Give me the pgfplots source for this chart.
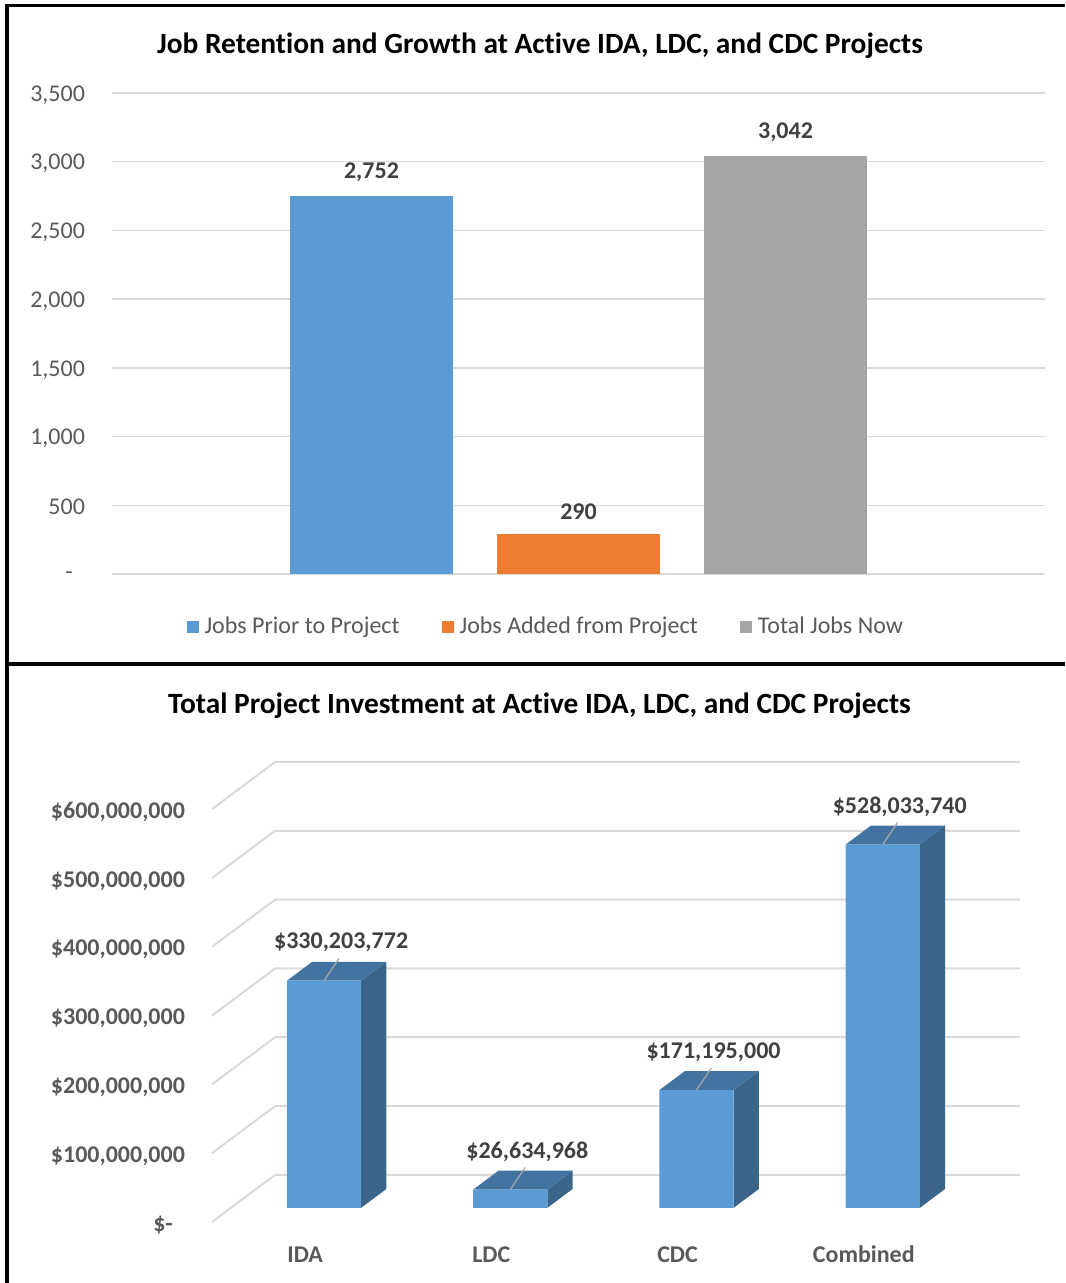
\documentclass[border=0pt]{standalone}
\usepackage{pgfplots}
\pgfplotsset{compat=1.18}
\usepackage{pgfplotstable}
\usepackage{fontspec}
\setmainfont{Carlito}[Ligatures=NoCommon]
\definecolor{cblue}{HTML}{5B9BD5}
\definecolor{corange}{HTML}{ED7D31}
\definecolor{cgray}{HTML}{A5A5A5}
\definecolor{gridc}{HTML}{D9D9D9}
\definecolor{tickc}{HTML}{595959}
\definecolor{labc}{HTML}{404040}
\definecolor{ctop}{HTML}{4374A1}
\definecolor{cside}{HTML}{3A6488}
\definecolor{leadc}{HTML}{A6A6A6}
\newcommand\fs{\fontsize{12pt}{14pt}\selectfont}

\pgfplotstableread{
x v lab
0 330.203772 330,203,772
1 26.634968 26,634,968
2 171.195 171,195,000
3 528.03374 528,033,740
}\invest

\begin{document}
\begin{tikzpicture}
\path[use as bounding box] (0,0) rectangle (532.5pt,641.5pt);
% frame lines
\draw[line width=2pt] (3.5pt,0) -- (3.5pt,639pt);
\draw[line width=1.5pt] (2.5pt,638.5pt) -- (532.5pt,638.5pt);
\draw[line width=2pt] (2.5pt,309.5pt) -- (532.5pt,309.5pt);
% titles
\node[font=\fontsize{14.7pt}{17pt}\selectfont\bfseries] at (270pt,618.5pt) {Job Retention and Growth at Active IDA, LDC, and CDC Projects};
\node[font=\fontsize{14.7pt}{17pt}\selectfont\bfseries] at (269.75pt,288.5pt) {Total Project Investment at Active IDA, LDC, and CDC Projects};

% ---------- top chart ----------
\begin{axis}[
  at={(56pt,354.5pt)}, anchor=south west,
  scale only axis, width=466.5pt, height=240.5pt,
  xmin=-1, xmax=1, ymin=0, ymax=3500,
  clip=false,
  axis line style={draw=none}, tick style={draw=none},
  xtick=\empty,
  ytick={0,500,...,3500},
  yticklabels={{-\hphantom{0}},500,{1,000},{1,500},{2,000},{2,500},{3,000},{3,500}},
  yticklabel style={font=\fs, text=tickc, xshift=-10pt, yshift=-1pt},
  ymajorgrids, grid style={gridc, line width=0.75pt},
  /pgf/number format/assume math mode=true,
  /pgf/number format/1000 sep={,},
  nodes near coords,
  every node near coord/.append style={font=\fs\bfseries, text=labc, yshift=3.5pt},
  legend image code/.code={\fill[#1] (0pt,-3pt) rectangle (6pt,3pt);},
  legend style={at={(0.466,-0.110)}, anchor=center, draw=none, fill=none,
    font=\fs\color{tickc}, legend columns=-1,
    /tikz/every odd column/.append style={column sep=1pt},
    /tikz/every even column/.append style={column sep=19pt}},
]
\addplot[ybar, bar width=0.3494, bar shift=-0.4437, fill=cblue, draw=none,
  every node near coord/.append style={xshift=-103.5pt}] coordinates {(0,2752)};
\addlegendentry{Jobs Prior to Project}
\addplot[ybar, bar width=0.3494, bar shift=0, fill=corange, draw=none] coordinates {(0,290)};
\addlegendentry{Jobs Added from Project}
\addplot[ybar, bar width=0.3494, bar shift=0.4437, fill=cgray, draw=none,
  every node near coord/.append style={xshift=103.5pt}] coordinates {(0,3042)};
\addlegendentry{Total Jobs Now}
\end{axis}

% ---------- bottom chart ----------
\begin{axis}[
  at={(106pt,30.5pt)}, anchor=south west,
  scale only axis, width=404pt, height=230pt,
  xmin=-0.5, xmax=3.839, ymin=-20.55, ymax=647.95,
  clip=false,
  axis line style={draw=none}, tick style={draw=none},
  xtick={0,1,2,3}, xticklabels={IDA,LDC,CDC,Combined},
  xticklabel style={font=\fs\bfseries, text=tickc, anchor=base, yshift=-20pt},
  ytick={-20.55,79.45,179.45,279.45,379.45,479.45,579.45},
  yticklabels={{\$-\hphantom{0}},{\$100,000,000},{\$200,000,000},{\$300,000,000},{\$400,000,000},{\$500,000,000},{\$600,000,000}},
  yticklabel style={font=\fs\bfseries, text=tickc, xshift=-10pt, yshift=-1.5pt},
]
% walls: left diagonal + back horizontal gridlines
\pgfplotsinvokeforeach{0,100,200,300,400,500,600}{
  \pgfmathsetmacro\ga{#1-20.55}
  \pgfmathsetmacro\gb{#1+47.95}
  \edef\cmd{\noexpand\draw[gridc, line width=1pt] (axis cs:-0.5,\ga) -- (axis cs:-0.161,\gb) -- (axis cs:3.839,\gb);}
  \cmd
}
% side and top faces of the bars, with leader lines
\pgfplotsinvokeforeach{0,1,2,3}{
  \pgfplotstablegetelem{#1}{v}\of\invest
  \pgfmathsetmacro\vt{\pgfplotsretval}
  \pgfmathsetmacro\vb{\pgfplotsretval+27.4}
  \pgfmathsetmacro\xl{#1+0.1017-0.199}
  \pgfmathsetmacro\xr{#1+0.1017+0.199}
  \pgfmathsetmacro\xlb{\xl+0.1356}
  \pgfmathsetmacro\xrb{\xr+0.1356}
  \pgfmathsetmacro\xc{#1+0.1017}
  \pgfmathsetmacro\xce{#1+0.1017+0.08}
  \pgfmathsetmacro\vce{\vt+32}
  \edef\cmd{%
    \noexpand\addplot[fill=cside, draw=none, forget plot] coordinates {(\xr,0) (\xrb,27.4) (\xrb,\vb) (\xr,\vt)} -- cycle;
    \noexpand\addplot[fill=ctop, draw=none, forget plot] coordinates {(\xl,\vt) (\xr,\vt) (\xrb,\vb) (\xlb,\vb)} -- cycle;
    \noexpand\addplot[leadc, line width=0.6pt, forget plot] coordinates {(\xc,\vt) (\xce,\vce)};
  }
  \cmd
}
% front faces with data labels
\addplot[ybar, bar width=0.398, bar shift=0.1017, fill=cblue, draw=none,
  point meta=explicit symbolic,
  nodes near coords={\$\pgfplotspointmeta},
  every node near coord/.append style={font=\fs\bfseries, text=labc, anchor=center, xshift=18pt, yshift=19pt}]
  table[x=x, y=v, meta=lab] {\invest};
\end{axis}
\end{tikzpicture}
\end{document}
